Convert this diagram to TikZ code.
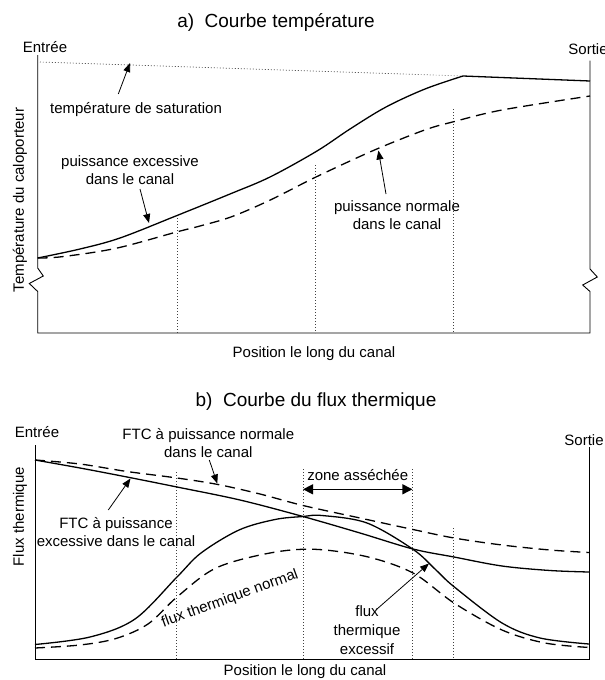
\documentclass[tikz,border=0pt]{standalone}
\usepackage{fontspec}
\setmainfont{Liberation Sans}
\usetikzlibrary{arrows.meta}
\begin{document}
\begin{tikzpicture}[x=1pt,y=-1pt,
  lbl/.style={font=\fontsize{15}{18}\selectfont, inner sep=0pt, align=center},
  ttl/.style={font=\fontsize{19}{22}\selectfont, inner sep=0pt},
  axisline/.style={line width=0.9pt, line join=miter},
  curve/.style={line width=1.3pt},
  dcurve/.style={line width=1.3pt, dash pattern=on 10pt off 6pt},
  guide/.style={line width=0.7pt, black!75, dash pattern=on 0.7pt off 2.3pt},
  pointer/.style={line width=0.8pt, -{Triangle[length=9pt,width=7pt]}},
  spanarrow/.style={line width=1.3pt, {Triangle[length=10pt,width=10pt]}-{Triangle[length=10pt,width=10pt]}}
]
\useasboundingbox (0,0) rectangle (605,680);

% ================= Panel a =================
\node[ttl] (ta) at (276,22) {a)\ \ Courbe température};
\node[lbl] (ea) at (45,47) {Entrée};
\node[lbl] (sa) at (588,49) {Sortie};

\draw[axisline] (37.7,55) -- (37.7,268) -- (43.3,276) -- (29.3,283.5) -- (37.7,291.5)
  -- (37.7,333) -- (590,333) -- (590,291.5) -- (582.7,285) -- (597.3,277) -- (590,269) -- (590,60.7);

% guide lines
\draw[guide] (177,218) -- (177,333);
\draw[guide] (315.5,165) -- (315.5,333);
\draw[guide] (453.7,109) -- (453.7,333);
% saturation
\draw[guide, black] (40,62) -- (463,76);

% curves
\draw[curve] plot[smooth,tension=0.55] coordinates {(37.7,258) (80,249) (120,238) (177,215.5) (230,194) (270,177) (317,151) (350,129) (386,107) (425,89) (463,76)} -- (590,81);
\draw[dcurve] plot[smooth,tension=0.55] coordinates {(37.7,258) (62,256.7) (116,248.3) (177.6,231.7) (200,226) (231.7,216.7) (270.3,200) (316.6,176.7) (374.5,150) (424.7,130) (453.7,121.7) (502,110) (590,96)};

\node[lbl] (sat) at (136,110) {température de saturation};
\node[lbl] (exa) at (130,170.5) {puissance excessive\\dans le canal};
\node[lbl] (noa) at (397,215.5) {puissance normale\\dans le canal};
\node[lbl, rotate=90] (ya) at (20,200) {Température du caloporteur};
\node[lbl] (xa) at (314,354) {Position le long du canal};

\coordinate (satT) at (118.3,94);
\coordinate (satH) at (130,63);
\coordinate (exT) at (140,189);
\coordinate (exH) at (149,223);
\coordinate (noT) at (386,194);
\coordinate (noH) at (378.4,150.5);
\draw[pointer] (satT) -- (satH);
\draw[pointer] (exT) -- (exH);
\draw[pointer] (noT) -- (noH);

% ================= Panel b =================
\node[ttl] (tb) at (316,402) {b)\ \ Courbe du flux thermique};
\node[lbl] (eb) at (37,431.7) {Entrée};
\node[lbl] (sb) at (584,440) {Sortie};

\draw[axisline] (35,445) -- (35,659) -- (589,659) -- (589,447);

\draw[guide] (176.8,472) -- (176.8,659);
\draw[guide] (303,469) -- (303,659);
\draw[guide] (412.4,469) -- (412.4,659);
\draw[guide] (453.7,528) -- (453.7,659);

% FTC curves
\draw[curve] plot[smooth,tension=0.55] coordinates {(35,460) (80,468) (127,477) (177,487) (240,500) (303,516.5) (360,533) (413,549) (454,557) (502,566) (550,570.5) (589,572)};
\draw[dcurve] plot[smooth,tension=0.55] coordinates {(35,460) (80,464) (127,471.5) (177,478) (218,484.5) (260,494) (303,505.5) (360,518) (413,529.5) (454,538) (502,545) (550,550) (589,552.5)};
% heat flux curves
\draw[curve] plot[smooth,tension=0.55] coordinates {(35,644.5) (90,637) (135,619) (177,577) (201,553) (239,530) (275,519.5) (303,516.5) (322,515.5) (367,523) (413,549.3) (436,570) (454,586.7) (502,623) (540,638) (589,644)};
\draw[dcurve] plot[smooth,tension=0.55] coordinates {(35,648) (80,645) (116,638.5) (148,624) (177,597) (216,568) (270,553) (314.7,549.3) (367,556.7) (413,573) (454,603) (502,630) (545,643) (589.6,647.5)};

\coordinate (zL) at (303,489.3);
\coordinate (zR) at (412.4,489.3);
\draw[spanarrow] (zL) -- (zR);
\node[lbl] (zone) at (357.7,475) {zone asséchée};

\node[lbl] (ftcn) at (208.3,443.3) {FTC à puissance normale\\dans le canal};
\node[lbl] (ftce) at (116,531.7) {FTC à puissance\\excessive dans le canal};
\node[lbl, font=\fontsize{15}{19}\selectfont] (fexc) at (367,630.5) {flux\\thermique\\excessif};
\node[lbl, rotate=20] (fnor) at (230,599) {flux thermique normal};
\node[lbl, rotate=90] (yb) at (20,516.7) {Flux thermique};
\node[lbl] (xb) at (305,671.7) {Position le long du canal};

\coordinate (ftcnT) at (209.3,460);
\coordinate (ftcnH) at (217.3,483.5);
\coordinate (ftceT) at (108.3,510);
\coordinate (ftceH) at (130.5,478.5);
\coordinate (fexcT) at (377,609);
\coordinate (fexcH) at (429,563.5);
\draw[pointer] (ftcnT) -- (ftcnH);
\draw[pointer] (ftceT) -- (ftceH);
\draw[pointer] (fexcT) -- (fexcH);
\end{tikzpicture}
\end{document}
